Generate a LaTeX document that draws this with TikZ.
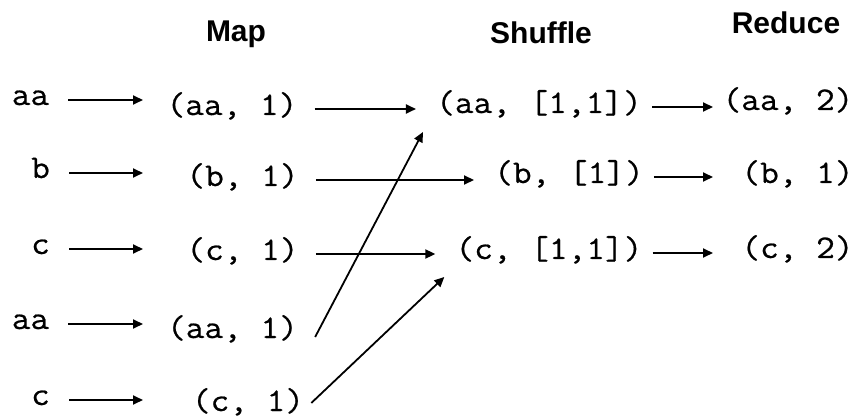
\documentclass[tikz,border=0pt]{standalone}
\usepackage{fontspec}
\setmainfont{Liberation Sans}
\newfontfamily\monof[FakeStretch=1.1,FakeBold=0.6]{Latin Modern Mono}
\usetikzlibrary{arrows.meta}
\begin{document}
\begin{tikzpicture}[x=1pt,y=-1pt,
  head/.style={font=\bfseries\fontsize{30}{34}\selectfont, anchor=base, inner sep=0pt},
  mono/.style={font=\monof\fontsize{33}{38}\selectfont, inner ysep=0pt, text depth=0pt, anchor=center},
  inp/.style={mono, inner xsep=19pt, text height=10pt},
  mp/.style={mono, inner xsep=17pt, text height=12pt},
  sh/.style={mono, inner xsep=10pt, text height=12pt},
  rd/.style={mono, inner xsep=0pt, text height=12pt},
  arr/.style={line width=1.8pt, -{Triangle[length=10pt,width=9pt]}}]
\useasboundingbox (0,0) rectangle (858,419);
% headings
\node[head] (hmap) at (236,42) {Map};
\node[head] (hshuf) at (541,44) {Shuffle};
\node[head] (hred) at (786,34) {Reduce};
% column coordinates
\coordinate (mapin) at (143,0);
\coordinate (redin) at (713,0);
% inputs
\node[inp] (a1) at (30.5,100) {aa};
\node[inp] (a2) at (40.5,173) {b};
\node[inp] (a3) at (40.5,249) {c};
\node[inp] (a4) at (30.5,324) {aa};
\node[inp] (a5) at (40.5,400) {c};
% map outputs
\node[mp] (m1) at (232,109) {(aa, 1)};
\node[mp] (m2) at (242.5,180) {(b, 1)};
\node[mp] (m3) at (242.5,254) {(c, 1)};
\node[mp] (m4) at (232.5,332) {(aa, 1)};
\node[mp] (m5) at (248,405) {(c, 1)};
% shuffle
\node[sh] (s1) at (539,107) {(aa, [1,1])};
\node[sh] (s2) at (569,177) {(b, [1])};
\node[sh] (s3) at (549,253) {(c, [1,1])};
% reduce
\node[rd] (r1) at (788,104) {(aa, 2)};
\node[rd] (r2) at (797.5,177) {(b, 1)};
\node[rd] (r3) at (797.5,252) {(c, 2)};
% input -> map
\foreach \i in {1,...,5} {\draw[arr] (a\i.east) -- (a\i.east -| mapin);}
% map -> shuffle
\draw[arr, shorten >=10pt] (m1.east) -- (m1.east -| s1.west);
\draw[arr, shorten >=10pt] (m2.east) -- (m2.east -| s2.west);
\draw[arr, shorten >=10pt] (m3.east) -- (m3.east -| s3.west);
\draw[arr] ([yshift=-5pt]m4.east) -- ([xshift=-3pt,yshift=-25pt]s1.west);
\draw[arr] ([xshift=-10pt,yshift=2pt]m5.east) -- ([xshift=-1pt,yshift=-24pt]s3.west);
% shuffle -> reduce
\draw[arr] (s1.east) -- (s1.east -| redin);
\draw[arr] (s2.east) -- (s2.east -| redin);
\draw[arr] (s3.east) -- (s3.east -| redin);
\end{tikzpicture}
\end{document}
